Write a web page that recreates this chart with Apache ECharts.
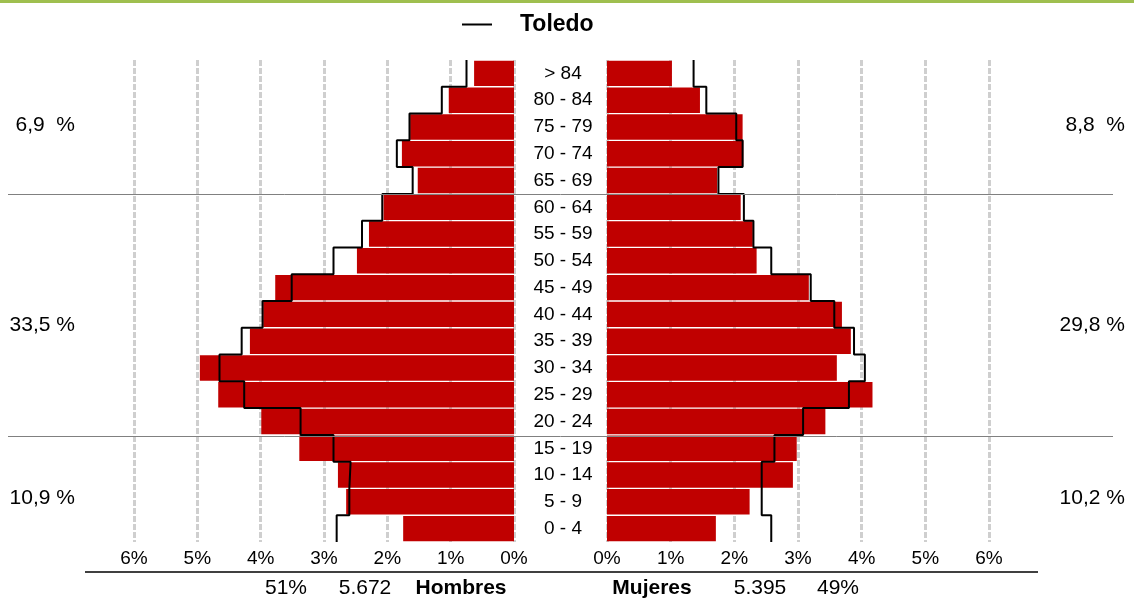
<!DOCTYPE html>
<html>
<head>
<meta charset="utf-8">
<script src="https://cdn.jsdelivr.net/npm/echarts@6/dist/echarts.min.js"></script>
<style>
html,body{margin:0;padding:0;background:#fff;}
#chart{width:1134px;height:601px;}
</style>
</head>
<body>
<div id="chart"></div>
<script>
// Age groups, bottom to top
var categories = ['0 - 4','5 - 9','10 - 14','15 - 19','20 - 24','25 - 29','30 - 34','35 - 39','40 - 44','45 - 49','50 - 54','55 - 59','60 - 64','65 - 69','70 - 74','75 - 79','80 - 84','> 84'];
// Percent of population (bars)
var hombres = [1.75,2.65,2.78,3.39,3.99,4.67,4.96,4.17,3.96,3.77,2.48,2.29,2.06,1.52,1.77,1.64,1.03,0.63];
var mujeres = [1.71,2.24,2.92,2.98,3.43,4.17,3.61,3.83,3.69,3.17,2.35,2.29,2.10,1.73,2.14,2.13,1.46,1.02];
// Reference profile: Toledo (step line)
var toledoHombres = [2.80,2.60,2.58,2.85,3.37,4.26,4.65,4.30,3.97,3.51,2.85,2.40,2.08,1.60,1.85,1.65,1.14,0.75];
var toledoMujeres = [2.58,2.43,2.43,2.63,3.08,3.80,4.05,3.88,3.57,3.20,2.58,2.30,2.15,1.75,2.13,2.03,1.56,1.36];
// Axis ticks
var tickValues = [0,1,2,3,4,5,6];
// Group labels (top: 65+, middle: 20-64, bottom: 0-19)
var gruposHombres = ['6,9  %','33,5 %','10,9 %'];
var gruposMujeres = ['8,8  %','29,8 %','10,2 %'];
// Totals
var totalHombres = ['51%','5.672','Hombres'];
var totalMujeres = ['Mujeres','5.395','49%'];
var serieRef = 'Toledo';

var FONT = 'Liberation Sans, Arial, Helvetica, sans-serif';

function steps(vals){
  var pts = [];
  for (var i = 0; i < vals.length; i++){
    pts.push([vals[i], i]);
    pts.push([vals[i], i + 1]);
  }
  return pts;
}

var chart = echarts.init(document.getElementById('chart'), null, {renderer:'canvas'});

var splitStyle = {show:true, lineStyle:{color:'#cfcfcf', width:3, type:[6,2]}};
var xLabel = {formatter:'{value}%', fontSize:19, color:'#000', margin:7, fontFamily:FONT};

var graphics = [
  {type:'rect', left:0, top:0, shape:{x:0,y:0,width:1134,height:3}, style:{fill:'#9fbf4f'}, silent:true},
  {type:'line', shape:{x1:8,y1:194.5,x2:1113,y2:194.5}, style:{stroke:'#808080', lineWidth:1}, silent:true, z:10},
  {type:'line', shape:{x1:8,y1:436.5,x2:1113,y2:436.5}, style:{stroke:'#808080', lineWidth:1}, silent:true, z:10},
  {type:'line', shape:{x1:85,y1:572,x2:1038,y2:572}, style:{stroke:'#000', lineWidth:1.5}, silent:true}
];
var groupY = [125, 325, 498];
for (var g = 0; g < 3; g++){
  graphics.push({type:'text', x:75, y:groupY[g], style:{text:gruposHombres[g], fontSize:21, fontFamily:FONT, fill:'#000', align:'right', verticalAlign:'middle'}});
  graphics.push({type:'text', x:1125, y:groupY[g], style:{text:gruposMujeres[g], fontSize:21, fontFamily:FONT, fill:'#000', align:'right', verticalAlign:'middle'}});
}
var hX = [286, 365, 461];
var mX = [652, 760, 838];
for (var k = 0; k < 3; k++){
  graphics.push({type:'text', x:hX[k], y:588, style:{text:totalHombres[k], fontSize:21, fontFamily:FONT, fontWeight:(k===2?'bold':'normal'), fill:'#000', align:'center', verticalAlign:'middle'}});
  graphics.push({type:'text', x:mX[k], y:588, style:{text:totalMujeres[k], fontSize:21, fontFamily:FONT, fontWeight:(k===0?'bold':'normal'), fill:'#000', align:'center', verticalAlign:'middle'}});
}

var option = {
  animation:false,
  backgroundColor:'#fff',
  textStyle:{fontFamily:FONT},
  legend:{
    data:[serieRef], left:457, top:8, icon:'rect', itemWidth:30, itemHeight:2,
    textStyle:{fontSize:23, fontWeight:'bold', color:'#000', fontFamily:FONT, padding:[0,0,0,23]}
  },
  grid:[
    {left:134, width:380, top:60, height:482},
    {left:607, width:382, top:60, height:482}
  ],
  xAxis:[
    {gridIndex:0, type:'value', min:tickValues[0], max:tickValues[tickValues.length-1], interval:1, inverse:true,
     axisLine:{show:false}, axisTick:{show:false}, axisLabel:xLabel, splitLine:splitStyle},
    {gridIndex:1, type:'value', min:tickValues[0], max:tickValues[tickValues.length-1], interval:1,
     axisLine:{show:false}, axisTick:{show:false}, axisLabel:xLabel, splitLine:splitStyle}
  ],
  yAxis:[
    {gridIndex:0, type:'category', data:categories, position:'right',
     axisLine:{show:false, onZero:false}, axisTick:{show:false}, splitLine:{show:false},
     axisLabel:{align:'center', margin:49, fontSize:19, color:'#000', fontFamily:FONT}},
    {gridIndex:0, type:'value', min:0, max:categories.length, show:false, splitLine:{show:false}},
    {gridIndex:1, type:'category', data:categories, show:false, splitLine:{show:false}},
    {gridIndex:1, type:'value', min:0, max:categories.length, show:false, splitLine:{show:false}}
  ],
  series:[
    {name:'Hombres', type:'bar', xAxisIndex:0, yAxisIndex:0, data:hombres, barCategoryGap:'5%', itemStyle:{color:'#c00000'}},
    {name:'Mujeres', type:'bar', xAxisIndex:1, yAxisIndex:2, data:mujeres, barCategoryGap:'5%', itemStyle:{color:'#c00000'}},
    {name:serieRef, type:'line', xAxisIndex:0, yAxisIndex:1, data:steps(toledoHombres), symbol:'none', showSymbol:false,
     color:'#000', itemStyle:{color:'#000'}, lineStyle:{color:'#000', width:2}, z:5},
    {name:serieRef, type:'line', xAxisIndex:1, yAxisIndex:3, data:steps(toledoMujeres), symbol:'none', showSymbol:false,
     color:'#000', itemStyle:{color:'#000'}, lineStyle:{color:'#000', width:2}, z:5}
  ],
  graphic:graphics
};
chart.setOption(option);
</script>
</body>
</html>
